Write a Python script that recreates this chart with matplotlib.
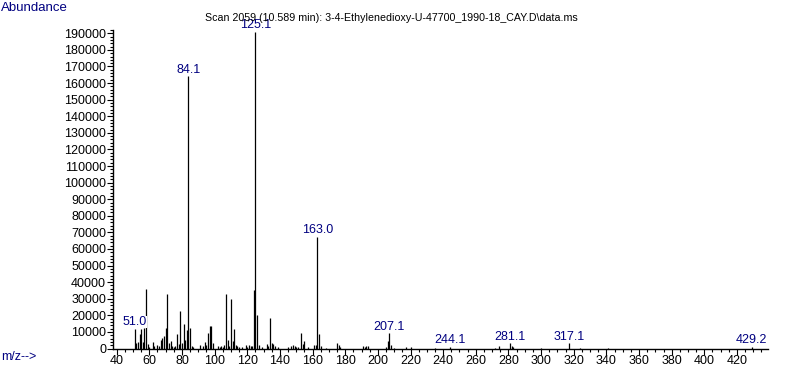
import matplotlib
matplotlib.use("Agg")
import matplotlib.pyplot as plt
from matplotlib.ticker import MultipleLocator
from matplotlib import font_manager

plt.rcParams['font.family'] = ['Liberation Sans', 'DejaVu Sans']

mz = [51, 52, 53, 54, 55, 56, 57, 58, 59, 60, 62, 63, 65, 66, 67, 68, 69, 70, 71, 72,
      73, 74, 75, 76, 77, 78, 79, 80, 81, 82, 83, 84, 85, 86, 87, 91, 93, 94, 95, 96,
      97, 98, 99, 102, 103, 104, 105, 106, 107, 108, 109, 110, 111, 112, 113, 114, 115,
      117, 119, 120, 121, 122, 123, 124, 125, 126, 127, 129, 132, 133, 134, 135, 136,
      137, 139, 145, 147, 148, 149, 150, 151, 153, 154, 155, 157, 161, 162, 163, 164,
      165, 168, 175, 176, 177, 191, 192, 193, 194, 205, 206, 207, 208, 210, 217, 220,
      235, 244, 272, 274, 281, 282, 283, 300, 317, 324, 341, 429]
abundance = [12000, 3500, 4100, 8800, 12000, 4000, 12500, 36000, 2500, 1000, 4000, 1500,
             2000, 1500, 5000, 6500, 7500, 12500, 33000, 3500, 4500, 1500, 1200, 1500,
             8600, 3000, 22500, 3500, 14500, 5300, 11200, 164000, 12200, 1500, 800, 2000,
             1500, 4100, 2000, 9500, 13600, 13600, 3500, 1500, 1200, 1500, 1000, 2000,
             33000, 5300, 1500, 29900, 4800, 11800, 2000, 1500, 1000, 1000, 2000, 1200,
             2000, 1800, 1500, 35400, 191000, 20200, 2000, 800, 2500, 1500, 18200, 3500,
             2500, 1800, 800, 800, 1500, 2000, 1500, 1200, 800, 9500, 3000, 4500, 800,
             2000, 2000, 67400, 8800, 1500, 600, 3500, 2000, 1000, 1500, 800, 1500, 1500,
             1000, 4500, 9200, 2000, 600, 800, 1000, 500, 1200, 600, 1800, 3100, 1500, 800,
             500, 3100, 600, 600, 1100]

label_mz = [51, 84, 125, 163, 207, 244, 281, 317, 429]
label_text = ["51.0", "84.1", "125.1", "163.0", "207.1", "244.1", "281.1", "317.1", "429.2"]

title = "Scan 2059 (10.589 min): 3-4-Ethylenedioxy-U-47700_1990-18_CAY.D\\data.ms"
navy = "#000080"

# narrower face for the title if available
try:
    font_manager.findfont("Liberation Sans Narrow", fallback_to_default=False)
    title_family = ["Liberation Sans Narrow", "Liberation Sans"]
    title_size = 9
except Exception:
    title_family = ["Liberation Sans"]
    title_size = 7.7

fig = plt.figure(figsize=(7.87, 3.67), dpi=100)
ax = fig.add_axes([113 / 787, (367 - 348.5) / 367, (768 - 113) / 787, (348.5 - 30) / 367])

ax.vlines(mz, 0, abundance, color="black", linewidth=0.9)

ax.set_xlim(37.75, 439)
ax.set_ylim(0, 192000)

for spine in ["top", "right"]:
    ax.spines[spine].set_visible(False)
ax.spines["left"].set_linewidth(1.0)
ax.spines["bottom"].set_linewidth(1.0)

ax.xaxis.set_major_locator(MultipleLocator(20))
ax.xaxis.set_minor_locator(MultipleLocator(5))
ax.yaxis.set_major_locator(MultipleLocator(10000))
ax.yaxis.set_minor_locator(MultipleLocator(2000))
ax.tick_params(axis="x", which="major", length=4, width=0.8, pad=0.5, labelsize=9)
ax.tick_params(axis="x", which="minor", length=2.5, width=0.8)
ax.tick_params(axis="y", which="major", length=4, width=0.8, pad=1, labelsize=9)
ax.tick_params(axis="y", which="minor", length=2, width=0.8)

for m, t in zip(label_mz, label_text):
    h = abundance[mz.index(m)]
    ax.annotate(t, (m, h), xytext=(0, 0.5), textcoords="offset points",
                ha="center", va="bottom", fontsize=9, color=navy, zorder=5,
                bbox=dict(facecolor="white", edgecolor="none", pad=0))

fig.text(391 / 787, 1 - 18 / 367, title, ha="center", va="center",
         fontsize=title_size, family=title_family, color="black", zorder=1)
fig.text(1 / 787, 1 - 8 / 367, "Abundance", ha="left", va="center", fontsize=9.5, color=navy)
fig.text(1 / 787, 1 - 357 / 367, "m/z-->", ha="left", va="center", fontsize=9, color=navy)

fig.savefig("out.png", dpi=100)
